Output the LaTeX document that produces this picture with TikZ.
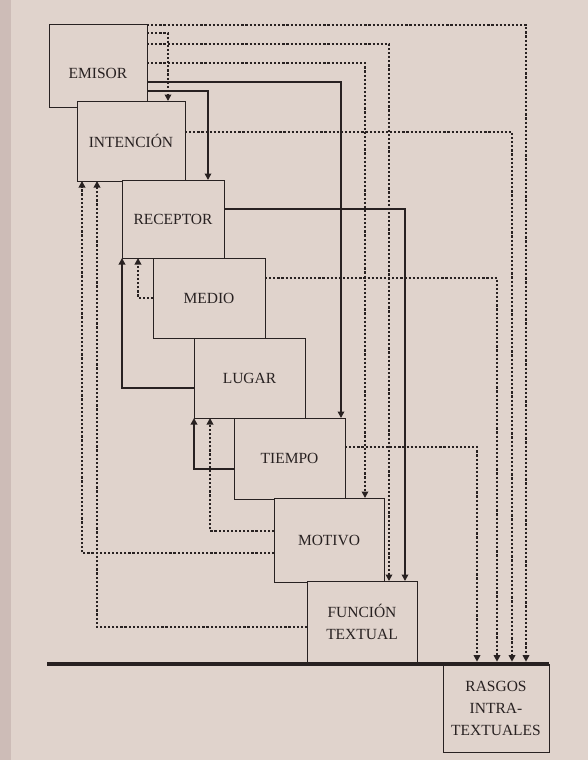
\documentclass[tikz,border=0pt]{standalone}
\usepackage{fontspec}
\setmainfont{Liberation Serif}
\usetikzlibrary{arrows.meta}
\definecolor{paper}{RGB}{224,211,204}
\definecolor{edge}{RGB}{205,188,183}
\definecolor{ink}{RGB}{40,33,33}
\begin{document}
\begin{tikzpicture}[x=1pt,y=-1pt,
  box/.style={draw=ink, line width=1.0pt, fill=paper, inner sep=0pt, outer sep=0pt,
    text=ink, font=\fontsize{15.5}{22}\selectfont, align=center},
  lbl/.style={text=ink, font=\fontsize{15.5}{22}\selectfont, align=center, inner sep=0pt},
  sol/.style={draw=ink, line width=2.2pt, -{Triangle[length=6.5pt,width=6.5pt]}},
  dotc/.style={draw=ink, line width=2.4pt, dash pattern=on 2.2pt off 1.9pt,
    -{Triangle[length=6.5pt,width=6.5pt]}},
  tobase/.style={shorten >=2.3pt}
]
\fill[paper] (0,0) rectangle (588,760);
\fill[edge] (0,0) rectangle (11,760);
\useasboundingbox (0,0) rectangle (588,760);

% boxes
\node[box, minimum width=98pt, minimum height=82pt] (em) at (98,66) {};
\node[lbl] (emt) at (98,73) {EMISOR};
\node[box, minimum width=108pt, minimum height=80pt] (in) at (131,141) {INTENCIÓN};
\node[box, minimum width=102pt, minimum height=78pt] (re) at (173,219) {RECEPTOR};
\node[box, minimum width=112pt, minimum height=80pt] (me) at (209,298) {MEDIO};
\node[box, minimum width=111pt, minimum height=80pt] (lu) at (249.5,378) {LUGAR};
\node[box, minimum width=111pt, minimum height=81pt] (ti) at (289.5,458.5) {TIEMPO};
\node[box, minimum width=110pt, minimum height=84pt] (mo) at (329,540) {MOTIVO};
\node[box, minimum width=110pt, minimum height=81pt] (fu) at (362,621.5) {FUNCIÓN\\TEXTUAL};
\node[box, minimum width=106pt, minimum height=88pt] (ras) at (496,708) {RASGOS\\INTRA-\\TEXTUALES};

% base line
\coordinate (bl0) at (47,664);
\draw[ink, line width=4.8pt] (bl0) -- (ras.north east);

% connectors from EMISOR
\draw[dotc, tobase] (em.north east) -| ([xshift=83pt]ras.north west);
\draw[dotc] ([yshift=-8pt]em.north east) -| ([xshift=91pt]in.north west);
\draw[dotc] ([yshift=-19pt]em.north east) -| ([xshift=82pt]fu.north west);
\draw[dotc] ([yshift=-38pt]em.north east) -| ([xshift=91pt]mo.north west);
\draw[sol] ([yshift=-57pt]em.north east) -| ([xshift=107pt]ti.north west);
\draw[sol] ([yshift=-66pt]em.north east) -| ([xshift=86pt]re.north west);
% other right-side connectors
\draw[dotc, tobase] ([yshift=-31pt]in.north east) -| ([xshift=69pt]ras.north west);
\draw[sol] ([yshift=-29pt]re.north east) -| ([xshift=98pt]fu.north west);
\draw[dotc, tobase] ([yshift=-20pt]me.north east) -| ([xshift=54pt]ras.north west);
\draw[dotc, tobase] ([yshift=-29pt]ti.north east) -| ([xshift=34pt]ras.north west);
% left-side feedback connectors
\draw[sol] ([yshift=-50pt]lu.north west) -| (re.south west);
\draw[dotc] ([yshift=-40pt]me.north west) -| ([xshift=16pt]re.south west);
\draw[sol] ([yshift=-51pt]ti.north west) -| (lu.south west);
\draw[dotc] ([yshift=-33pt]mo.north west) -| ([xshift=16pt]lu.south west);
\draw[dotc] ([yshift=-55pt]mo.north west) -| ([xshift=5pt]in.south west);
\draw[dotc] ([yshift=-46pt]fu.north west) -| ([xshift=20pt]in.south west);
\end{tikzpicture}
\end{document}
